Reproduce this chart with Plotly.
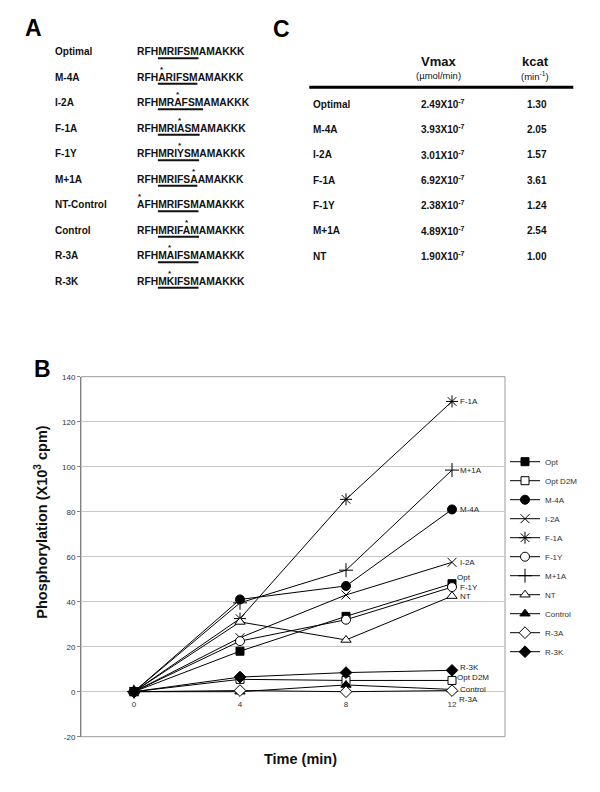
import plotly.graph_objects as go

# The page body has an 8px margin; the figure is sized to fit inside the window.
OX, OY = 8, 8
W, H = 584, 776


def px(x):
    return (x - OX) / W


def py(y):
    return 1 - (y - OY) / H


# ---------------- Panel B data ----------------
time_min = [0, 4, 8, 12]
series_names = ["Opt", "Opt D2M", "M-4A", "I-2A", "F-1A", "F-1Y",
                "M+1A", "NT", "Control", "R-3A", "R-3K"]
opt = [0, 18, 33.5, 48]
opt_d2m = [0, 5.5, 5, 5]
m4a = [0, 41, 47, 81]
i2a = [0, 24, 43, 57.5]
f1a = [0, 32.5, 85.5, 129]
f1y = [0, 22.5, 32, 46.5]
m1a = [0, 39.5, 54, 98.5]
nt = [0, 31, 23, 42.5]
control = [0, 0, 3, 1]
r3a = [0, 0.5, 0, 0.5]
r3k = [0, 6.5, 8.5, 9.5]
series_values = [opt, opt_d2m, m4a, i2a, f1a, f1y, m1a, nt, control, r3a, r3k]
end_labels = ["Opt", "Opt D2M", "M-4A", "I-2A", "F-1A", "F-1Y",
              "M+1A", "NT", "Control", "R-3A", "R-3K"]

y_ticks = [-20, 0, 20, 40, 60, 80, 100, 120, 140]
y_tick_labels = ["-20", "0", "20", "40", "60", "80", "100", "120", "140"]
x_tick_labels = ["0", "4", "8", "12"]

# ---------------- Panel A data ----------------
mutant_names = ["Optimal", "M-4A", "I-2A", "F-1A", "F-1Y", "M+1A",
                "NT-Control", "Control", "R-3A", "R-3K"]
mutant_sequences = ["RFHMRIFSMAMAKKK", "RFHARIFSMAMAKKK", "RFHMRAFSMAMAKKK",
                    "RFHMRIASMAMAKKK", "RFHMRIYSMAMAKKK", "RFHMRIFSAAMAKKK",
                    "AFHMRIFSMAMAKKK", "RFHMRIFAMAMAKKK", "RFHMAIFSMAMAKKK",
                    "RFHMKIFSMAMAKKK"]
mutated_positions = [None, 3, 5, 6, 6, 8, 0, 7, 4, 4]
motif_start, motif_end = 3, 9   # underlined residues

# ---------------- Panel C data ----------------
kin_names = ["Optimal", "M-4A", "I-2A", "F-1A", "F-1Y", "M+1A", "NT"]
vmax_mantissa = ["2.49", "3.93", "3.01", "6.92", "2.38", "4.89", "1.90"]
vmax_exponent = "-7"
kcat_values = ["1.30", "2.05", "1.57", "3.61", "1.24", "2.54", "1.00"]

# ---------------- styles ----------------
FONT = "Arial, Liberation Sans, sans-serif"
TXT = "#111111"
styles = {
    "Opt": dict(symbol="square", color="black", size=8),
    "Opt D2M": dict(symbol="square", color="white", size=8),
    "M-4A": dict(symbol="circle", color="black", size=9),
    "I-2A": dict(symbol="x-thin-open", color="black", size=9),
    "F-1A": dict(symbol="asterisk-open", color="black", size=10),
    "F-1Y": dict(symbol="circle", color="white", size=9),
    "M+1A": dict(symbol="cross-thin-open", color="black", size=10),
    "NT": dict(symbol="triangle-up", color="white", size=9),
    "Control": dict(symbol="triangle-up", color="black", size=9),
    "R-3A": dict(symbol="diamond", color="white", size=9),
    "R-3K": dict(symbol="diamond", color="black", size=9),
}
label_shift = {  # (xshift, yshift) in px for end-of-line labels
    "Opt": (5, 6), "Opt D2M": (5, 3), "R-3K": (8, 3), "R-3A": (7, -9),
}

# plot area geometry (window pixels)
PL, PR, PT, PB = 81, 505, 376.7, 736.7
ymin, ymax = -20, 140
ydom = [py(PB), py(PT)]
zero_pos = ydom[0] + (0 - ymin) / (ymax - ymin) * (ydom[1] - ydom[0])

fig = go.Figure()
for name, vals in zip(series_names, series_values):
    st = styles[name]
    fig.add_trace(go.Scatter(
        x=time_min, y=vals, name=name, mode="lines+markers",
        line=dict(color="black", width=1),
        marker=dict(symbol=st["symbol"], color=st["color"], size=st["size"],
                    line=dict(color="black", width=1)),
    ))

annotations = []
shapes = []


def note(x, y, text, size, xanchor="center", color=TXT, **kw):
    d = dict(x=px(x), y=py(y), xref="paper", yref="paper", text=text,
             showarrow=False, xanchor=xanchor, yanchor="middle",
             borderpad=0, borderwidth=0,
             font=dict(family=FONT, size=size, color=color))
    d.update(kw)
    annotations.append(d)


# end-of-line labels
for name, lab, vals in zip(series_names, end_labels, series_values):
    xs, ys = label_shift.get(name, (8, 0))
    annotations.append(dict(
        x=time_min[-1], y=vals[-1], xref="x", yref="y", text=lab,
        showarrow=False, xanchor="left", yanchor="middle", xshift=xs, yshift=ys,
        font=dict(family=FONT, size=8, color="#222"), borderpad=0, borderwidth=0))

# axis titles
note(41, 521.7, "<b>Phosphorylation (X10<sup>3</sup> cpm)</b>", 14.5, textangle=-90)
note(300, 759.3, "<b>Time (min)</b>", 14.5)

# panel letters
for letter, (lx, ly) in zip(["A", "B", "C"], [(33, 28), (42, 369), (281, 29)]):
    note(lx, ly, "<b>%s</b>" % letter, 23, color="black")

# ---------------- Panel A layout ----------------
char_w = {"A": .722, "F": .611, "H": .722, "I": .278, "K": .722, "M": .833,
          "R": .722, "S": .667, "Y": .667}
SEQ_FS = 10.3
SEQ_X = 136.7
for i, (nm, seq, mp) in enumerate(zip(mutant_names, mutant_sequences, mutated_positions)):
    ry = 51.7 + 25.5 * i
    note(55, ry, "<b>%s</b>" % nm, 10, xanchor="left")
    note(SEQ_X, ry, "<b>%s</b>" % seq, SEQ_FS, xanchor="left")
    u0 = SEQ_X + sum(char_w[c] for c in seq[:motif_start]) * SEQ_FS
    u1 = SEQ_X + sum(char_w[c] for c in seq[:motif_end]) * SEQ_FS
    shapes.append(dict(type="line", xref="paper", yref="paper",
                       x0=px(u0), x1=px(u1), y0=py(ry + 6.5), y1=py(ry + 6.5),
                       line=dict(color=TXT, width=2)))
    if mp is not None:
        ax = SEQ_X + (sum(char_w[c] for c in seq[:mp]) + char_w[seq[mp]] / 2) * SEQ_FS
        note(ax, ry - 8, "<b>*</b>", 8)

# ---------------- Panel C layout ----------------
note(438.3, 61.7, "<b>Vmax</b>", 13)
note(438.3, 75.5, "(\u00b5mol/min)", 9.5)
note(535, 61.7, "<b>kcat</b>", 13)
note(535, 75.5, "(min<sup>-1</sup>)", 9.5)
shapes.append(dict(type="line", xref="paper", yref="paper",
                   x0=px(309.3), x1=px(573.3), y0=py(87.3), y1=py(87.3),
                   line=dict(color="black", width=3)))
for i, (nm, vm, kc) in enumerate(zip(kin_names, vmax_mantissa, kcat_values)):
    ry = 104 + 25.35 * i
    note(312.7, ry, "<b>%s</b>" % nm, 10, xanchor="left")
    note(443, ry, "<b>%sX10<sup>%s</sup></b>" % (vm, vmax_exponent), 10)
    note(537.3, ry, "<b>%s</b>" % kc, 10)

# plot-area frame
shapes.append(dict(type="rect", xref="paper", yref="paper", layer="below",
                   x0=px(PL), x1=px(PR), y0=ydom[0], y1=ydom[1],
                   line=dict(color="#9a9a9a", width=1)))

fig.update_layout(
    template="none",
    width=W, height=H, autosize=False,
    margin=dict(l=0, r=0, t=0, b=0, pad=0),
    paper_bgcolor="white", plot_bgcolor="white",
    font=dict(family=FONT, size=8, color="#333"),
    xaxis=dict(domain=[px(PL), px(PR)], range=[-2, 14], anchor="free",
               position=zero_pos, tickvals=time_min, ticktext=x_tick_labels,
               showgrid=False, zeroline=False, showline=False,
               ticks="outside", ticklen=5, tickcolor="rgba(0,0,0,0)",
               tickfont=dict(family=FONT, size=8, color="#333"), automargin=False),
    yaxis=dict(domain=ydom, range=[ymin, ymax], tickvals=y_ticks,
               ticktext=y_tick_labels, showgrid=True, gridcolor="#c8c8c8",
               gridwidth=1, zeroline=False, showline=True, linecolor="#808080",
               linewidth=1, ticks="outside", ticklen=3, tickcolor="#808080",
               tickfont=dict(family=FONT, size=8, color="#333"), automargin=False),
    showlegend=True,
    legend=dict(x=px(505), y=py(556.7), xanchor="left", yanchor="middle",
                xref="paper", yref="paper",
                font=dict(family=FONT, size=8, color="#333"),
                bgcolor="rgba(0,0,0,0)", borderwidth=0, itemwidth=30,
                tracegroupgap=0),
    annotations=annotations,
    shapes=shapes,
)

fig.write_html("out.html")
